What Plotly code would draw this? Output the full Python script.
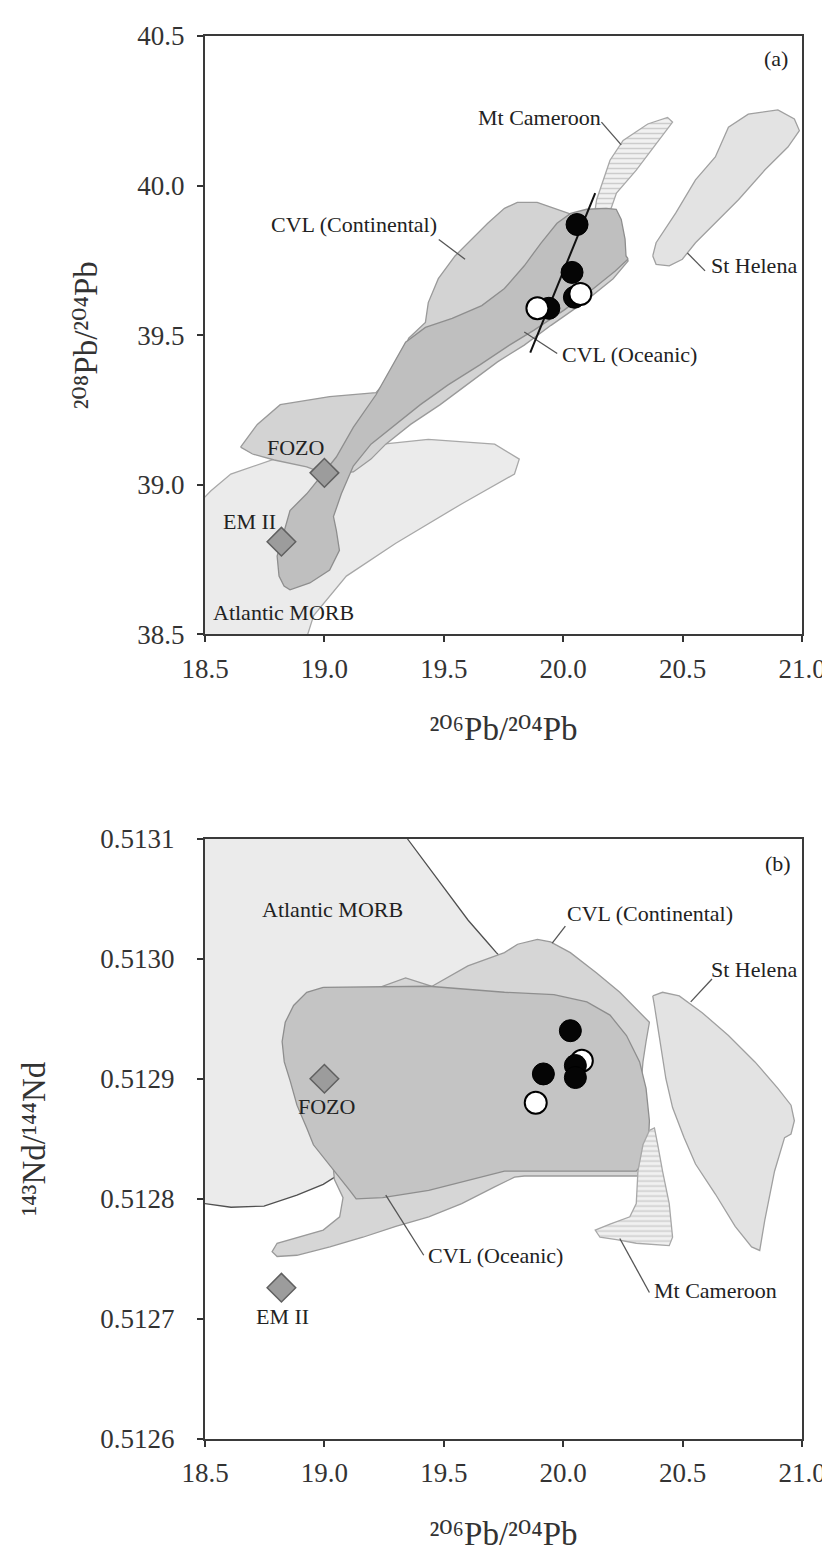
import plotly.graph_objects as go

FONT = "Liberation Serif"

# ---------------- Panel (a): 206Pb/204Pb vs 208Pb/204Pb ----------------
a_morb_x = [18.39, 18.525, 18.608, 18.79, 19.009, 19.245, 19.435, 19.713, 19.816, 19.796, 19.576, 19.299, 19.092, 18.955, 18.906, 18.39]
a_morb_y = [38.871, 38.98, 39.036, 39.086, 39.113, 39.136, 39.152, 39.136, 39.086, 39.036, 38.937, 38.805, 38.695, 38.563, 38.44, 38.44]

a_sthelena_x = [20.375, 20.389, 20.471, 20.554, 20.637, 20.692, 20.775, 20.899, 20.968, 20.989, 20.941, 20.844, 20.734, 20.637, 20.554, 20.499, 20.444, 20.389]
a_sthelena_y = [39.765, 39.809, 39.908, 40.019, 40.096, 40.195, 40.239, 40.253, 40.223, 40.184, 40.129, 40.052, 39.953, 39.875, 39.809, 39.754, 39.732, 39.737]

a_cameroon_x = [20.13, 20.14, 20.196, 20.251, 20.354, 20.437, 20.458, 20.389, 20.306, 20.223, 20.19]
a_cameroon_y = [39.9, 39.953, 40.085, 40.151, 40.206, 40.228, 40.212, 40.14, 40.052, 39.975, 39.9]

a_cont_x = [18.649, 18.719, 18.815, 19.022, 19.216, 19.299, 19.353, 19.423, 19.435, 19.477, 19.547, 19.618, 19.684, 19.754, 19.808, 19.891, 19.961, 20.05, 20.21, 20.272, 20.209, 20.085, 19.949, 19.837, 19.725, 19.609, 19.485, 19.361, 19.257, 19.195, 19.121, 19.005, 18.926, 18.79, 18.699]
a_cont_y = [39.126, 39.202, 39.268, 39.295, 39.308, 39.384, 39.49, 39.543, 39.609, 39.689, 39.765, 39.821, 39.874, 39.924, 39.944, 39.944, 39.924, 39.9, 39.85, 39.748, 39.689, 39.609, 39.533, 39.467, 39.411, 39.341, 39.268, 39.202, 39.136, 39.086, 39.043, 39.036, 39.06, 39.083, 39.103]

a_ocean_x = [20.272, 20.218, 20.127, 20.002, 19.878, 19.775, 19.651, 19.518, 19.402, 19.299, 19.195, 19.121, 19.071, 19.038, 19.05, 19.063, 19.022, 18.939, 18.856, 18.831, 18.81, 18.802, 18.831, 18.856, 18.926, 19.05, 19.121, 19.216, 19.34, 19.423, 19.535, 19.659, 19.754, 19.837, 19.907, 19.974, 20.031, 20.098, 20.18, 20.222, 20.243, 20.259, 20.263]
a_ocean_y = [39.755, 39.715, 39.656, 39.583, 39.517, 39.467, 39.401, 39.334, 39.268, 39.202, 39.136, 39.063, 38.97, 38.894, 38.848, 38.781, 38.715, 38.672, 38.649, 38.662, 38.695, 38.762, 38.848, 38.914, 38.97, 39.093, 39.192, 39.301, 39.477, 39.526, 39.556, 39.599, 39.656, 39.732, 39.808, 39.874, 39.907, 39.921, 39.924, 39.921, 39.887, 39.821, 39.765]

a_black_x = [20.058, 20.037, 19.94, 20.047]
a_black_y = [39.87, 39.71, 39.59, 39.627]
a_white_x = [19.892, 20.072]
a_white_y = [39.59, 39.638]
a_trend_x = [19.862, 20.134]
a_trend_y = [39.442, 39.975]

end_x = [19.0, 18.82]          # FOZO, EM II
a_end_y = [39.04, 38.81]

a_labels = ["(a)", "Mt Cameroon", "St Helena", "CVL (Continental)", "CVL (Oceanic)", "FOZO", "EM II", "Atlantic MORB"]
a_label_x = [20.892, 19.899, 20.797, 19.123, 20.279, 18.881, 18.685, 18.83]
a_label_y = [40.424, 40.228, 39.732, 39.871, 39.434, 39.125, 38.876, 38.575]

a_leaders = [  # (x0, y0, x1, y1)
    (20.160, 40.212, 20.243, 40.136),
    (20.520, 39.775, 20.594, 39.715),
    (19.479, 39.820, 19.589, 39.754),
    (19.837, 39.511, 19.975, 39.439),
]

# ---------------- Panel (b): 206Pb/204Pb vs 143Nd/144Nd ----------------
b_morb_x = [18.43, 19.32, 19.347, 19.437, 19.519, 19.602, 19.685, 19.72, 19.92, 19.837, 19.34, 19.043, 18.995, 18.885, 18.747, 18.609, 18.499, 18.43]
b_morb_y = [0.513115, 0.513115, 0.5131, 0.513076, 0.513054, 0.513032, 0.513013, 0.513005, 0.512966, 0.512867, 0.512826, 0.512818, 0.512812, 0.512803, 0.512794, 0.512793, 0.512796, 0.512797]

b_cont_x = [19.451, 19.601, 19.754, 19.809, 19.892, 19.947, 20.03, 20.14, 20.237, 20.306, 20.361, 20.347, 20.334, 20.327, 20.334, 20.347, 20.375, 20.334, 19.837, 19.796, 19.713, 19.575, 19.437, 19.299, 19.161, 19.023, 18.885, 18.802, 18.781, 18.802, 18.885, 18.995, 19.064, 19.078, 19.042, 19.009, 19.092, 19.34]
b_cont_y = [0.512977, 0.512994, 0.513005, 0.513012, 0.513016, 0.513014, 0.513005, 0.512988, 0.512972, 0.512958, 0.512947, 0.512931, 0.512914, 0.512898, 0.512878, 0.512859, 0.512834, 0.512819, 0.512819, 0.512818, 0.51281, 0.512796, 0.512785, 0.512777, 0.512768, 0.51276, 0.512753, 0.512752, 0.512756, 0.512763, 0.512768, 0.512774, 0.512785, 0.512801, 0.512816, 0.512884, 0.512966, 0.512984]

b_ocean_x = [18.995, 19.437, 19.754, 19.961, 20.099, 20.196, 20.265, 20.32, 20.347, 20.361, 20.354, 20.306, 19.754, 19.575, 19.437, 19.244, 19.133, 19.106, 19.05, 18.995, 18.954, 18.926, 18.885, 18.857, 18.832, 18.823, 18.836, 18.871, 18.926]
b_ocean_y = [0.512976, 0.512977, 0.512972, 0.51297, 0.512964, 0.512953, 0.512936, 0.512914, 0.512892, 0.512865, 0.512834, 0.512823, 0.512823, 0.512814, 0.512807, 0.512801, 0.5128, 0.512807, 0.512821, 0.512834, 0.512845, 0.512859, 0.512878, 0.512898, 0.512914, 0.512931, 0.512947, 0.512961, 0.512972]

b_sthelena_x = [20.375, 20.416, 20.486, 20.582, 20.692, 20.803, 20.899, 20.954, 20.968, 20.954, 20.927, 20.885, 20.844, 20.823, 20.789, 20.72, 20.637, 20.554, 20.506, 20.458, 20.43, 20.403, 20.382]
b_sthelena_y = [0.512969, 0.512972, 0.512969, 0.512955, 0.512936, 0.512914, 0.512892, 0.512878, 0.512865, 0.512854, 0.512851, 0.512823, 0.512782, 0.512757, 0.51276, 0.512777, 0.512804, 0.512829, 0.512851, 0.512876, 0.5129, 0.512936, 0.512961]

b_cameroon_x = [20.361, 20.382, 20.396, 20.416, 20.444, 20.458, 20.444, 20.306, 20.223, 20.154, 20.134, 20.196, 20.279, 20.306, 20.313, 20.334]
b_cameroon_y = [0.512857, 0.512859, 0.512845, 0.512823, 0.512796, 0.512768, 0.512761, 0.512763, 0.512766, 0.512768, 0.512774, 0.512779, 0.512785, 0.512796, 0.512823, 0.512845]

b_black_x = [20.03, 19.917, 20.051, 20.051]
b_black_y = [0.51294, 0.512904, 0.512911, 0.512901]
b_white_x = [20.078, 19.885]
b_white_y = [0.512915, 0.51288]

b_end_y = [0.5129, 0.512726]

b_labels = ["(b)", "Atlantic MORB", "CVL (Continental)", "St Helena", "FOZO", "EM II", "CVL (Oceanic)", "Mt Cameroon"]
b_label_x = [20.899, 19.033, 20.365, 20.801, 19.009, 18.823, 19.717, 20.637]
b_label_y = [0.513079, 0.513041, 0.513038, 0.512991, 0.512877, 0.512702, 0.512753, 0.512724]

b_leaders = [
    (20.009, 0.513027, 19.954, 0.513013),
    (20.623, 0.512983, 20.534, 0.512964),
    (19.257, 0.512803, 19.416, 0.512753),
    (20.237, 0.512767, 20.361, 0.512722),
]

x_ticks = [18.5, 19.0, 19.5, 20.0, 20.5, 21.0]
a_y_ticks = [38.5, 39.0, 39.5, 40.0, 40.5]
b_y_ticks = [0.5126, 0.5127, 0.5128, 0.5129, 0.5130, 0.5131]

x_title = "²⁰⁶Pb/²⁰⁴Pb"
a_y_title = "²⁰⁸Pb/²⁰⁴Pb"
b_y_title = "¹⁴³Nd/¹⁴⁴Nd"

# ---------------- figure ----------------
fig = go.Figure()


def poly(x, y, fill, line, xa, ya, width=1.3, pattern=None):
    kw = dict(x=list(x) + [x[0]], y=list(y) + [y[0]], mode="lines", fill="toself",
              fillcolor=fill, line=dict(color=line, width=width),
              xaxis=xa, yaxis=ya, hoverinfo="skip", showlegend=False)
    if pattern:
        kw["fillpattern"] = pattern
    fig.add_trace(go.Scatter(**kw))


hatch = dict(shape="-", fgcolor="#a8a8a8", bgcolor="#f1f1f1", size=5, solidity=0.3)

# panel (a)
poly(a_morb_x, a_morb_y, "#ebebeb", "#a8a8a8", "x", "y")
poly(a_sthelena_x, a_sthelena_y, "#e3e3e3", "#a0a0a0", "x", "y")
poly(a_cameroon_x, a_cameroon_y, "#f1f1f1", "#a8a8a8", "x", "y", pattern=hatch)
poly(a_cont_x, a_cont_y, "#d3d3d3", "#9a9a9a", "x", "y")
poly(a_ocean_x, a_ocean_y, "#bfbfbf", "#8e8e8e", "x", "y")

for (x0, y0, x1, y1) in a_leaders:
    fig.add_trace(go.Scatter(x=[x0, x1], y=[y0, y1], mode="lines", line=dict(color="#555555", width=1.3),
                             xaxis="x", yaxis="y", showlegend=False, hoverinfo="skip"))

fig.add_trace(go.Scatter(x=a_trend_x, y=a_trend_y, mode="lines", line=dict(color="#111111", width=2),
                         xaxis="x", yaxis="y", showlegend=False))
fig.add_trace(go.Scatter(x=a_black_x, y=a_black_y, mode="markers",
                         marker=dict(color="#050505", size=22, line=dict(color="#000000", width=1)),
                         xaxis="x", yaxis="y", showlegend=False))
fig.add_trace(go.Scatter(x=a_white_x, y=a_white_y, mode="markers",
                         marker=dict(color="#ffffff", size=22, line=dict(color="#000000", width=2)),
                         xaxis="x", yaxis="y", showlegend=False))
fig.add_trace(go.Scatter(x=end_x, y=a_end_y, mode="markers",
                         marker=dict(symbol="diamond", color="#9c9c9c", size=22, line=dict(color="#606060", width=1.5)),
                         xaxis="x", yaxis="y", showlegend=False))

# panel (b)
poly(b_morb_x, b_morb_y, "#ebebeb", "#505050", "x2", "y2")
poly(b_cont_x, b_cont_y, "#d6d6d6", "#9a9a9a", "x2", "y2")
poly(b_ocean_x, b_ocean_y, "#c4c4c4", "#8e8e8e", "x2", "y2")
poly(b_cameroon_x, b_cameroon_y, "#f1f1f1", "#a8a8a8", "x2", "y2", pattern=hatch)
poly(b_sthelena_x, b_sthelena_y, "#e3e3e3", "#a0a0a0", "x2", "y2")

for (x0, y0, x1, y1) in b_leaders:
    fig.add_trace(go.Scatter(x=[x0, x1], y=[y0, y1], mode="lines", line=dict(color="#555555", width=1.3),
                             xaxis="x2", yaxis="y2", showlegend=False, hoverinfo="skip"))

fig.add_trace(go.Scatter(x=b_white_x, y=b_white_y, mode="markers",
                         marker=dict(color="#ffffff", size=22, line=dict(color="#000000", width=2)),
                         xaxis="x2", yaxis="y2", showlegend=False))
fig.add_trace(go.Scatter(x=b_black_x, y=b_black_y, mode="markers",
                         marker=dict(color="#050505", size=22, line=dict(color="#000000", width=1)),
                         xaxis="x2", yaxis="y2", showlegend=False))
fig.add_trace(go.Scatter(x=end_x, y=b_end_y, mode="markers",
                         marker=dict(symbol="diamond", color="#9c9c9c", size=22, line=dict(color="#606060", width=1.5)),
                         xaxis="x2", yaxis="y2", showlegend=False))

annotations = []
for t, x, y in zip(a_labels, a_label_x, a_label_y):
    annotations.append(dict(text=t, x=x, y=y, xref="x", yref="y", showarrow=False,
                            font=dict(family=FONT, size=22, color="#222222")))
for t, x, y in zip(b_labels, b_label_x, b_label_y):
    annotations.append(dict(text=t, x=x, y=y, xref="x2", yref="y2", showarrow=False,
                            font=dict(family=FONT, size=22, color="#222222")))

axis_common = dict(showline=True, linecolor="#3a3a3a", linewidth=2, mirror=True,
                   ticks="outside", ticklen=6, tickwidth=1.5, tickcolor="#333333",
                   showgrid=False, zeroline=False,
                   tickfont=dict(family=FONT, size=27, color="#333333"))

# serif fallback so every superscript digit is drawn in a serif face
title_font = dict(family="Liberation Serif, DejaVu Serif, serif", size=33, color="#333333")

fig.update_layout(
    width=830, height=1550,
    margin=dict(l=197, r=29, t=28, b=106),
    paper_bgcolor="white", plot_bgcolor="white",
    showlegend=False,
    annotations=annotations,
    xaxis=dict(domain=[0, 1], range=[18.5, 21.0], anchor="y", tickvals=x_ticks, tickformat=".1f",
               ticklabelstandoff=3,
               title=dict(text=x_title, font=title_font, standoff=34),
               **axis_common),
    yaxis=dict(domain=[0.57345, 1], range=[38.5, 40.5], anchor="x", tickvals=a_y_ticks, tickformat=".1f",
               ticklabelstandoff=7,
               title=dict(text=a_y_title, font=title_font, standoff=30),
               **axis_common),
    xaxis2=dict(domain=[0, 1], range=[18.5, 21.0], anchor="y2", tickvals=x_ticks, tickformat=".1f",
                ticklabelstandoff=3,
                title=dict(text=x_title, font=title_font, standoff=34),
                **axis_common),
    yaxis2=dict(domain=[0, 0.42797], range=[0.5126, 0.5131], anchor="x2", tickvals=b_y_ticks, tickformat=".4f",
                ticklabelstandoff=17,
                title=dict(text=b_y_title, font=title_font, standoff=45),
                **axis_common),
)

fig.write_html("out.html")
